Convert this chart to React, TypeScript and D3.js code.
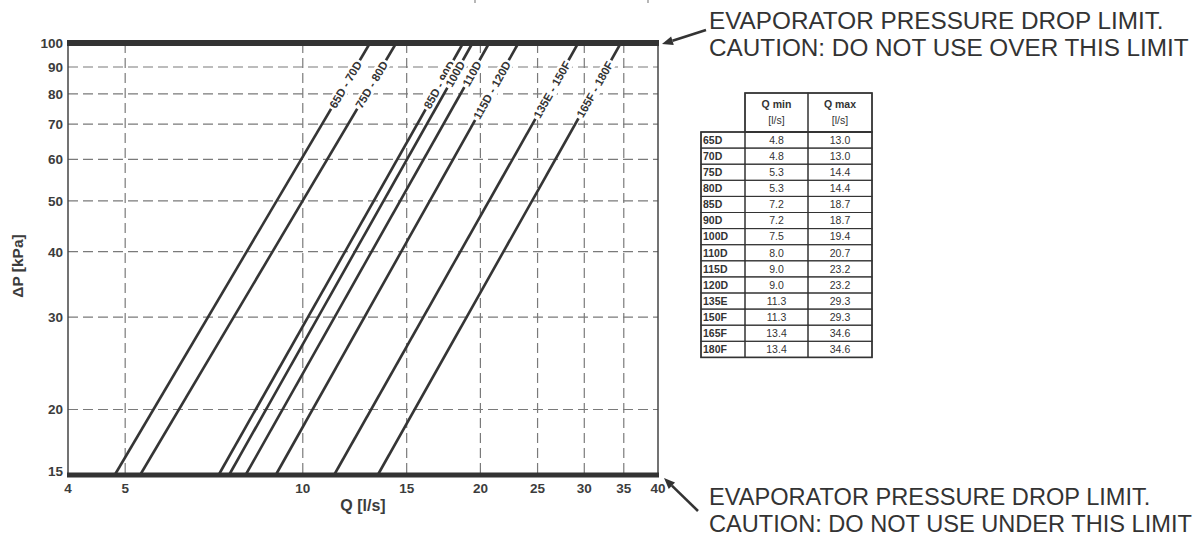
import React, { useRef, useEffect } from "react";
import * as d3 from "d3";

// table data
const models = ["65D", "70D", "75D", "80D", "85D", "90D", "100D", "110D", "115D", "120D", "135E", "150F", "165F", "180F"];
const qMin = [4.8, 4.8, 5.3, 5.3, 7.2, 7.2, 7.5, 8.0, 9.0, 9.0, 11.3, 11.3, 13.4, 13.4];
const qMax = [13.0, 13.0, 14.4, 14.4, 18.7, 18.7, 19.4, 20.7, 23.2, 23.2, 29.3, 29.3, 34.6, 34.6];

// one curve per group of models (index into table rows)
const curveRows = [0, 2, 4, 6, 7, 8, 10, 12];
const curveLabels = ["65D - 70D", "75D - 80D", "85D - 90D", "100D", "110D", "115D - 120D", "135E - 150F", "165F - 180F"];

const xTicks = [4, 5, 10, 15, 20, 25, 30, 35, 40];
const yTicks = [15, 20, 30, 40, 50, 60, 70, 80, 90, 100];
const xGrid = [5, 10, 15, 20, 25, 30, 35];
const yGrid = [20, 30, 40, 50, 60, 70, 80, 90];

const pLow = 15;
const pHigh = 100;

const topNote = ["EVAPORATOR PRESSURE DROP LIMIT.", "CAUTION: DO NOT USE OVER THIS LIMIT"];
const bottomNote = ["EVAPORATOR PRESSURE DROP LIMIT.", "CAUTION: DO NOT USE UNDER THIS LIMIT"];

const FONT = "'Liberation Sans', Arial, Helvetica, sans-serif";
const INK = "#353535";

export default function App() {
  const svgRef = useRef<SVGSVGElement | null>(null);

  useEffect(() => {
    document.body.style.margin = "0";
    const W = 1204, H = 537;
    const svg = d3.select(svgRef.current).attr("width", W).attr("height", H);
    svg.selectAll("*").remove();
    svg.append("rect").attr("width", W).attr("height", H).attr("fill", "#fff");

    const x = d3.scaleLog().domain([4, 40]).range([68, 658]);
    const y = d3.scaleLog().domain([15, 100]).range([475, 43]);

    // grid
    const grid = svg.append("g").attr("stroke", "#7a7a7a").attr("stroke-width", 1.2).attr("stroke-dasharray", "10,5");
    grid.selectAll("line.v").data(xGrid).join("line")
      .attr("x1", d => x(d)).attr("x2", d => x(d)).attr("y1", y(100)).attr("y2", y(15));
    grid.selectAll("line.h").data(yGrid).join("line")
      .attr("class", "h")
      .attr("x1", x(4)).attr("x2", x(40)).attr("y1", d => y(d)).attr("y2", d => y(d));

    // frame
    svg.append("line").attr("x1", x(4)).attr("x2", x(4)).attr("y1", y(100)).attr("y2", y(15)).attr("stroke", "#444").attr("stroke-width", 1.5);
    svg.append("line").attr("x1", x(40)).attr("x2", x(40)).attr("y1", y(100)).attr("y2", y(15)).attr("stroke", "#444").attr("stroke-width", 1.5);

    // curves
    const lineG = svg.append("g");
    curveRows.forEach((r, i) => {
      const x0 = x(qMin[r]), y0 = y(pLow), x1 = x(qMax[r]), y1 = y(pHigh);
      lineG.append("line").attr("x1", x0).attr("y1", y0).attr("x2", x1).attr("y2", y1)
        .attr("stroke", INK).attr("stroke-width", 2.6);

      const angle = -Math.atan2(y0 - y1, x1 - x0) * 180 / Math.PI;
      // label end point on the line near the top
      const pEnd = 92;
      const t = (y0 - y(pEnd)) / (y0 - y1);
      const ex = x0 + t * (x1 - x0), ey = y(pEnd);
      const lg = lineG.append("g").attr("transform", `translate(${ex},${ey}) rotate(${angle})`);
      const bg = lg.append("rect").attr("fill", "#fff");
      const txt = lg.append("text").text(curveLabels[i])
        .attr("text-anchor", "end").attr("dy", "0.36em")
        .attr("font-family", FONT).attr("font-weight", "bold").attr("font-size", 11.5).attr("fill", INK);
      const len = (txt.node() as SVGTextElement).getComputedTextLength();
      bg.attr("x", -len - 2).attr("y", -6.5).attr("width", len + 4).attr("height", 13);
    });

    // thick limit lines
    svg.append("line").attr("x1", x(4) - 1).attr("x2", x(40) + 1).attr("y1", y(100)).attr("y2", y(100)).attr("stroke", "#333").attr("stroke-width", 6);
    svg.append("line").attr("x1", x(4) - 1).attr("x2", x(40) + 1).attr("y1", y(15)).attr("y2", y(15)).attr("stroke", "#333").attr("stroke-width", 5);

    // tick labels
    svg.append("g").selectAll("text").data(yTicks).join("text")
      .attr("x", 63).attr("y", d => y(d)).attr("dy", d => d === 15 ? "0.1em" : "0.36em")
      .attr("text-anchor", "end").attr("font-family", FONT).attr("font-weight", "bold").attr("font-size", 13.5).attr("fill", "#3c3c3c")
      .text(d => d);
    svg.append("g").selectAll("text").data(xTicks).join("text")
      .attr("x", d => x(d)).attr("y", 493)
      .attr("text-anchor", "middle").attr("font-family", FONT).attr("font-weight", "bold").attr("font-size", 13.5).attr("fill", "#3c3c3c")
      .text(d => d);

    // axis titles
    svg.append("text").attr("transform", "translate(23,266) rotate(-90)")
      .attr("text-anchor", "middle").attr("font-family", FONT).attr("font-weight", "bold").attr("font-size", 15.5).attr("fill", "#3c3c3c")
      .text("ΔP [kPa]");
    svg.append("text").attr("x", 363).attr("y", 511)
      .attr("text-anchor", "middle").attr("font-family", FONT).attr("font-weight", "bold").attr("font-size", 16).attr("fill", "#3c3c3c")
      .text("Q [l/s]");

    // notes with arrows
    const arrow = (xa: number, ya: number, xb: number, yb: number) => {
      const a = Math.atan2(yb - ya, xb - xa);
      const L = 11, w = 4.5;
      const bx = xb - L * Math.cos(a), by = yb - L * Math.sin(a);
      svg.append("line").attr("x1", xa).attr("y1", ya).attr("x2", bx).attr("y2", by).attr("stroke", "#333").attr("stroke-width", 2.6);
      svg.append("path")
        .attr("d", `M${xb},${yb}L${bx + w * Math.sin(a)},${by - w * Math.cos(a)}L${bx - w * Math.sin(a)},${by + w * Math.cos(a)}Z`)
        .attr("fill", "#333");
    };
    arrow(706, 30, 662, 44);
    arrow(698, 511, 664, 478);

    const note = (lines: string[], yTop: number, size: number) => {
      svg.append("g").selectAll("text").data(lines).join("text")
        .attr("x", 709).attr("y", (d, i) => yTop + i * 27)
        .attr("font-family", FONT).attr("font-size", size).attr("fill", "#333")
        .text(d => d);
    };
    note(topNote, 29, 24.3);
    note(bottomNote, 505, 23.6);

    // table
    const tx = 701, cw = [44, 63, 64], hTop = 93, hBot = 132, rh = 16.1;
    const cx = [tx, tx + cw[0], tx + cw[0] + cw[1], tx + cw[0] + cw[1] + cw[2]];
    const tb = svg.append("g").attr("stroke", "#333").attr("fill", "none");
    tb.append("rect").attr("x", cx[1]).attr("y", hTop).attr("width", cw[1]).attr("height", hBot - hTop).attr("stroke-width", 1);
    tb.append("rect").attr("x", cx[2]).attr("y", hTop).attr("width", cw[2]).attr("height", hBot - hTop).attr("stroke-width", 1);
    models.forEach((m, i) => {
      const ry = hBot + i * rh;
      for (let c = 0; c < 3; c++) {
        tb.append("rect").attr("x", cx[c]).attr("y", ry).attr("width", cw[c]).attr("height", rh).attr("stroke-width", 1);
      }
    });
    tb.append("rect").attr("x", cx[0]).attr("y", hBot).attr("width", cx[3] - cx[0]).attr("height", rh * models.length).attr("stroke-width", 1.6);
    tb.append("rect").attr("x", cx[1]).attr("y", hTop).attr("width", cx[3] - cx[1]).attr("height", hBot - hTop).attr("stroke-width", 1.6);

    const th = svg.append("g").attr("font-family", FONT).attr("fill", "#333").attr("text-anchor", "middle");
    ["Q min", "Q max"].forEach((h, c) => {
      th.append("text").attr("x", cx[c + 1] + cw[c + 1] / 2).attr("y", 108).attr("font-weight", "bold").attr("font-size", 10.5).text(h);
      th.append("text").attr("x", cx[c + 1] + cw[c + 1] / 2).attr("y", 124).attr("font-size", 10.5).text("[l/s]");
    });
    const rows = svg.append("g").attr("font-family", FONT).attr("fill", "#333").attr("font-size", 10.5);
    models.forEach((m, i) => {
      const cy = hBot + i * rh + rh / 2;
      rows.append("text").attr("x", cx[0] + 2).attr("y", cy).attr("dy", "0.36em").attr("font-weight", "bold").text(m);
      rows.append("text").attr("x", cx[1] + cw[1] / 2).attr("y", cy).attr("dy", "0.36em").attr("text-anchor", "middle").text(qMin[i].toFixed(1));
      rows.append("text").attr("x", cx[2] + cw[2] / 2).attr("y", cy).attr("dy", "0.36em").attr("text-anchor", "middle").text(qMax[i].toFixed(1));
    });

    // cropped marks at the very top edge
    svg.append("g").attr("stroke", "#888").attr("stroke-width", 1.2).selectAll("line").data([475, 648]).join("line")
      .attr("x1", d => d).attr("x2", d => d).attr("y1", 0).attr("y2", 3);
  }, []);

  return <svg ref={svgRef} style={{ display: "block" }} />;
}
